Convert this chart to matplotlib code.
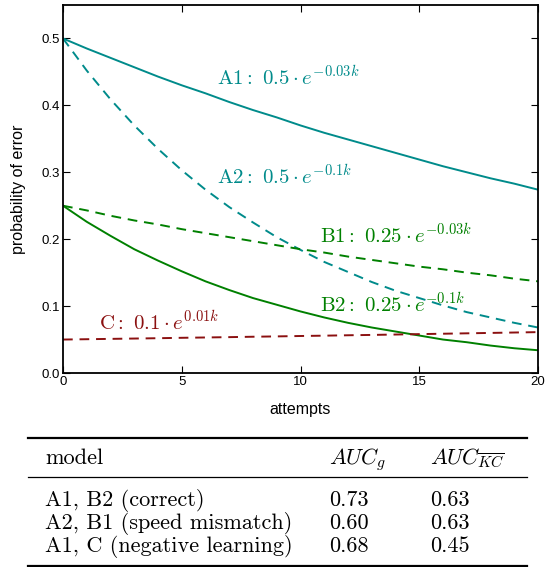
import matplotlib
matplotlib.use("Agg")
import matplotlib.pyplot as plt
from matplotlib.lines import Line2D

# values, one per attempt k = 0..20
attempts = list(range(21))
a1 = [.500, .485, .471, .457, .443, .430, .418, .405, .393, .382, .370,
      .359, .349, .339, .329, .319, .309, .300, .291, .283, .274]
a2 = [.500, .452, .409, .370, .335, .303, .274, .248, .225, .203, .184,
      .166, .151, .136, .123, .112, .101, .091, .083, .075, .068]
b1 = [.250, .243, .235, .228, .222, .215, .209, .203, .197, .191, .185,
      .180, .174, .169, .164, .159, .155, .150, .146, .141, .137]
b2 = [.250, .226, .205, .185, .168, .152, .137, .124, .112, .102, .092,
      .083, .075, .068, .062, .056, .050, .046, .041, .037, .034]
c = [.0500, .0505, .0510, .0515, .0520, .0526, .0531, .0536, .0542, .0547, .0553,
     .0558, .0564, .0569, .0575, .0581, .0587, .0593, .0599, .0605, .0611]

curve_labels = [r"$\mathrm{A1:}\ 0.5\cdot e^{-0.03k}$",
                r"$\mathrm{A2:}\ 0.5\cdot e^{-0.1k}$",
                r"$\mathrm{B1:}\ 0.25\cdot e^{-0.03k}$",
                r"$\mathrm{B2:}\ 0.25\cdot e^{-0.1k}$",
                r"$\mathrm{C:}\ 0.1\cdot e^{0.01k}$"]
label_pos = [(6.5, 0.431), (6.5, 0.284), (10.8, 0.195), (10.8, 0.093), (1.5, 0.066)]

table_header = ["model", r"$AUC_g$", r"$AUC_{\overline{KC}}$"]
table_models = ["A1, B2 (correct)", "A2, B1 (speed mismatch)", "A1, C (negative learning)"]
auc_g = ["0.73", "0.60", "0.68"]
auc_kc = ["0.63", "0.63", "0.45"]

teal = "#008b8b"
green = "#008000"
red = "#8b1010"

plt.rcParams["mathtext.fontset"] = "cm"
plt.rcParams["font.family"] = ["Liberation Sans", "DejaVu Sans"]

W, H = 545, 567
fig = plt.figure(figsize=(W / 100, H / 100), dpi=100)
ax = fig.add_axes([63 / W, 1 - 373 / H, (538 - 63) / W, (373 - 5) / H])

series = [(a1, teal, "-"), (a2, teal, "--"), (b1, green, "--"), (b2, green, "-"), (c, red, "--")]
for (ys, col, ls) in series:
    ax.plot(attempts, ys, color=col, linestyle=ls, lw=1.4, dashes=(5, 3.5) if ls == "--" else (None, None))

label_colors = [teal, teal, green, green, red]
for txt, (x, y), col in zip(curve_labels, label_pos, label_colors):
    ax.text(x, y, txt, color=col, fontsize=15)

ax.set_xlim(0, 20)
ax.set_ylim(0, 0.55)
ax.set_xticks([0, 5, 10, 15, 20])
ax.set_yticks([0.0, 0.1, 0.2, 0.3, 0.4, 0.5])
ax.set_yticklabels(["0.0", "0.1", "0.2", "0.3", "0.4", "0.5"])
ax.tick_params(direction="in", top=True, right=True, labelsize=9.5, length=5, pad=2)
for sp in ax.spines.values():
    sp.set_linewidth(1.3)
ax.set_xlabel("attempts", fontsize=11.5, labelpad=10)
ax.set_ylabel("probability of error", fontsize=11.5, labelpad=11)

# table below the chart
def fx(px):
    return px / W

def fy(py):
    return 1 - py / H

for py, lw in [(437.5, 1.6), (476.5, 0.9), (565.5, 1.6)]:
    fig.add_artist(Line2D([fx(28), fx(527)], [fy(py), fy(py)], color="black", lw=lw))

cols_x = [45, 329, 430]
tfont = dict(fontsize=16, family="cmr10", va="baseline", ha="left")
fig.text(fx(cols_x[0]), fy(464), table_header[0], **tfont)
fig.text(fx(cols_x[1]), fy(464), table_header[1], fontsize=16, va="baseline", ha="left")
fig.text(fx(cols_x[2]), fy(464), table_header[2], fontsize=16, va="baseline", ha="left")
for i, (m, g, k) in enumerate(zip(table_models, auc_g, auc_kc)):
    yb = fy(506 + i * 23)
    fig.text(fx(cols_x[0]), yb, m, **tfont)
    fig.text(fx(cols_x[1]), yb, g, **tfont)
    fig.text(fx(cols_x[2]), yb, k, **tfont)

fig.savefig("out.png", dpi=100)
